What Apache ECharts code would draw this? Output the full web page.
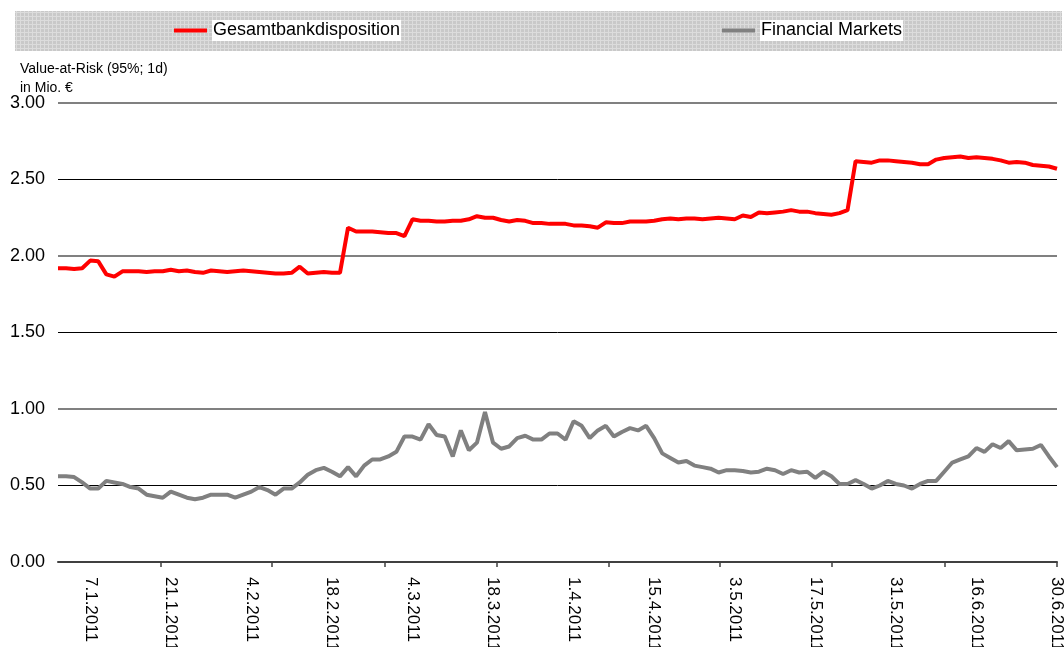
<!DOCTYPE html>
<html>
<head>
<meta charset="utf-8">
<script src="https://cdn.jsdelivr.net/npm/echarts@6/dist/echarts.min.js"></script>
<style>
html,body{margin:0;padding:0;background:#fff;}
#chart{width:1064px;height:647px;}
</style>
</head>
<body>
<div id="chart"></div>
<script>
// Handelstage 3.1.2011 - 30.6.2011 (ohne Karfreitag, Ostermontag, Himmelfahrt, Pfingstmontag)
var holidays = ['22.4', '25.4', '2.6', '13.6'];
var dates = [];
(function(){
	var d = new Date(2011, 0, 3);
	var end = new Date(2011, 5, 30);
	while (d <= end) {
		var wd = d.getDay();
		var key = d.getDate() + '.' + (d.getMonth() + 1);
		if (wd !== 0 && wd !== 6 && holidays.indexOf(key) < 0) {
			dates.push(key + '.2011');
		}
		d.setDate(d.getDate() + 1);
	}
})();

var gesamtbank = [
	1.92, 1.92, 1.915, 1.92, 1.97, 1.965, 1.88, 1.865, 1.90,
	1.90, 1.90, 1.895, 1.90, 1.90, 1.91, 1.90, 1.905, 1.895, 1.89, 1.905,
	1.90, 1.895, 1.90, 1.905, 1.90, 1.895, 1.89, 1.885, 1.885, 1.89,
	1.93, 1.885, 1.89, 1.895, 1.89, 1.89,
	2.185, 2.16, 2.16, 2.16, 2.155, 2.15, 2.15, 2.13,
	2.24, 2.23, 2.23, 2.225, 2.225, 2.23, 2.23, 2.24, 2.26, 2.25,
	2.25, 2.235, 2.225, 2.235, 2.23, 2.215, 2.215, 2.21, 2.21, 2.21,
	2.20, 2.20, 2.195, 2.185, 2.22, 2.215, 2.215, 2.225, 2.225, 2.225,
	2.23, 2.24, 2.245, 2.24, 2.245, 2.245, 2.24, 2.245, 2.25, 2.245,
	2.24, 2.265, 2.255, 2.285, 2.28, 2.285, 2.29, 2.30, 2.29, 2.29,
	2.28, 2.275, 2.27, 2.28, 2.30,
	2.62, 2.615, 2.61, 2.625, 2.625, 2.62, 2.615, 2.61, 2.60, 2.60,
	2.63, 2.64, 2.645, 2.65, 2.64, 2.645, 2.64, 2.635, 2.625, 2.61,
	2.615, 2.61, 2.595, 2.59, 2.585, 2.57
];
var financialMarkets = [
	0.56, 0.56, 0.555, 0.52, 0.48, 0.48, 0.53, 0.52, 0.51, 0.49,
	0.48, 0.44, 0.43, 0.42, 0.46, 0.44, 0.42, 0.41, 0.42, 0.44,
	0.44, 0.44, 0.42, 0.44, 0.46, 0.49, 0.47, 0.44, 0.48, 0.48,
	0.52, 0.57, 0.60, 0.615, 0.59, 0.56, 0.62, 0.56, 0.63, 0.67,
	0.67, 0.69, 0.72, 0.82, 0.82, 0.80, 0.90, 0.83, 0.82, 0.69,
	0.86, 0.73, 0.78, 0.98, 0.78, 0.74, 0.755, 0.81, 0.825, 0.80,
	0.80, 0.84, 0.84, 0.80, 0.92, 0.89, 0.81, 0.86, 0.89, 0.82,
	0.85, 0.875, 0.86, 0.89, 0.81, 0.71, 0.68, 0.65, 0.66, 0.63,
	0.62, 0.61, 0.585, 0.60, 0.60, 0.595, 0.585, 0.59, 0.61, 0.60,
	0.575, 0.60, 0.585, 0.59, 0.55, 0.59, 0.56, 0.51, 0.51, 0.535,
	0.51, 0.48, 0.50, 0.53, 0.51, 0.50, 0.48, 0.51, 0.53, 0.53,
	0.59, 0.65, 0.67, 0.69, 0.745, 0.72, 0.77, 0.745, 0.79, 0.73,
	0.735, 0.74, 0.765, 0.69, 0.62
];
var seriesNames = ['Gesamtbankdisposition', 'Financial Markets'];
// Teilstriche der x-Achse (Positionen in Handelstagen)
var tickPositions = [12.7, 26.5, 40.5, 54.4, 68.3, 82.2, 96.1, 110.1, 124];

// Raster fuer den Legendenhintergrund
function makePattern(){
	var c = document.createElement('canvas');
	c.width = 4; c.height = 4;
	var ctx = c.getContext('2d');
	ctx.fillStyle = '#c9c9c9';
	ctx.fillRect(0, 0, 4, 4);
	ctx.fillStyle = '#dcdcdc';
	ctx.fillRect(0, 0, 4, 1);
	ctx.fillRect(0, 0, 1, 4);
	return c;
}

var myChart = echarts.init(document.getElementById('chart'));
var font = 'Liberation Sans, Arial, sans-serif';
var legendText = {fontSize: 18, color: '#000', backgroundColor: '#fff', padding: [2, 1, 1, 1], fontFamily: font};
var option = {
	animation: false,
	textStyle: {fontFamily: font},
	title: {
		text: 'Value-at-Risk (95%; 1d)\nin Mio. €',
		left: 20,
		top: 60,
		padding: 0,
		textStyle: {fontSize: 14, fontWeight: 'normal', color: '#000', lineHeight: 19, fontFamily: font}
	},
	graphic: [{
		type: 'rect',
		z: -1,
		shape: {x: 15, y: 11, width: 1047, height: 40},
		style: {fill: {image: makePattern(), repeat: 'repeat'}}
	}],
	legend: [{
		data: [seriesNames[0]],
		left: 174,
		top: 20,
		padding: 0,
		icon: 'rect',
		itemWidth: 33,
		itemHeight: 4,
		textStyle: legendText
	}, {
		data: [seriesNames[1]],
		left: 722,
		top: 20,
		padding: 0,
		icon: 'rect',
		itemWidth: 33,
		itemHeight: 4,
		textStyle: legendText
	}],
	grid: {left: 58, right: 7, top: 103, bottom: 85, containLabel: false, outerBoundsMode: 'none'},
	xAxis: [{
		type: 'category',
		data: dates,
		boundaryGap: false,
		axisLine: {lineStyle: {color: '#404040', width: 2}},
		axisTick: {show: false},
		axisLabel: {
			interval: function(idx){ return idx % 10 === 4; },
			rotate: -90,
			fontSize: 17,
			color: '#000',
			margin: 15,
			fontFamily: font
		},
		splitLine: {show: false}
	}, {
		type: 'value',
		position: 'bottom',
		min: 0,
		max: dates.length - 1,
		axisLine: {show: false, onZero: false},
		axisLabel: {show: false},
		splitLine: {show: false},
		axisTick: {show: true, length: 5, customValues: tickPositions, lineStyle: {color: '#404040', width: 1.5}}
	}],
	yAxis: [{
		type: 'value',
		min: 0,
		max: 3,
		interval: 0.5,
		axisLine: {show: false},
		axisTick: {show: false},
		axisLabel: {
			formatter: function(v){ return v.toFixed(2); },
			fontSize: 18,
			color: '#000',
			margin: 13,
			fontFamily: font
		},
		splitLine: {lineStyle: {color: ['transparent', '#000'], width: 1}}
	}, {
		type: 'value',
		min: 0,
		max: 3,
		interval: 1,
		position: 'left',
		axisLine: {show: false},
		axisTick: {show: false},
		axisLabel: {show: false},
		splitLine: {lineStyle: {color: '#808080', width: 2}}
	}],
	series: [{
		name: seriesNames[0],
		type: 'line',
		data: gesamtbank,
		showSymbol: false,
		symbol: 'none',
		color: '#ff0000',
		lineStyle: {color: '#ff0000', width: 4},
		z: 3
	}, {
		name: seriesNames[1],
		type: 'line',
		data: financialMarkets,
		showSymbol: false,
		symbol: 'none',
		color: '#808080',
		lineStyle: {color: '#808080', width: 4},
		z: 2
	}]
};
myChart.setOption(option);
</script>
</body>
</html>
